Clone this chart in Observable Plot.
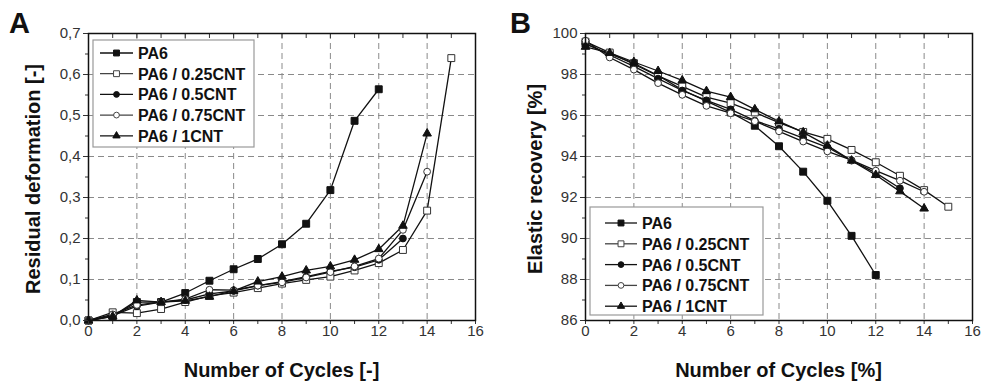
<!DOCTYPE html>
<html><head><meta charset="utf-8">
<script src="https://cdn.jsdelivr.net/npm/d3@7"></script>
<script src="https://cdn.jsdelivr.net/npm/@observablehq/plot@0.6"></script>
<style>
html,body{margin:0;padding:0;background:#fff;}
#wrap{position:relative;width:984px;height:387px;overflow:hidden;background:#fff;}
#wrap svg{position:absolute;top:0;}
</style></head><body><div id="wrap"></div>
<script>
// ---------- data ----------
const cycles = [0,1,2,3,4,5,6,7,8,9,10,11,12,13,14,15];
const seriesNames = ["PA6","PA6 / 0.25CNT","PA6 / 0.5CNT","PA6 / 0.75CNT","PA6 / 1CNT"];
const seriesSymbols = ["square","square","circle","circle","triangle"];
const seriesFilled = [true,false,true,false,true];

// Panel A: residual deformation [-]
const resPA6  = [0,0.01,0.045,0.045,0.067,0.097,0.125,0.15,0.186,0.236,0.318,0.487,0.564];
const res025  = [0,0.02,0.018,0.028,0.045,0.06,0.068,0.079,0.09,0.099,0.107,0.122,0.14,0.172,0.268,0.64];
const res05   = [0,0.012,0.035,0.045,0.05,0.065,0.072,0.085,0.095,0.107,0.12,0.13,0.148,0.2];
const res075  = [0,0.015,0.038,0.045,0.052,0.075,0.074,0.085,0.093,0.105,0.118,0.132,0.151,0.221,0.363];
const res1    = [0,0.01,0.049,0.045,0.048,0.058,0.072,0.095,0.107,0.122,0.132,0.148,0.174,0.231,0.456];

// Panel B: elastic recovery [%]
const recPA6  = [99.5,99.0,98.55,97.95,97.25,96.7,96.15,95.5,94.5,93.26,91.84,90.13,88.22];
const rec025  = [99.6,99.07,98.5,97.93,97.42,96.9,96.6,96.15,95.65,95.2,94.86,94.32,93.72,93.06,92.36,91.55];
const rec05   = [99.5,98.95,98.4,97.8,97.22,96.74,96.3,95.75,95.35,94.9,94.45,93.8,93.2,92.45];
const rec075  = [99.65,98.83,98.24,97.58,97.01,96.47,96.11,95.72,95.23,94.73,94.25,93.82,93.31,92.82,92.28];
const rec1    = [99.35,99.05,98.61,98.17,97.71,97.19,96.9,96.3,95.71,95.18,94.53,93.8,93.1,92.3,91.46];

// ticks
const xMajor = [0,2,4,6,8,10,12,14,16];
const xMinor = [1,3,5,7,9,11,13,15];
const xTop   = [0,1,2,3,4,5,6,7,8,9,10,11,12,13,14,15,16];
const xGrid  = [2,4,6,8,10,12,14];
const yMajorA = [0,0.1,0.2,0.3,0.4,0.5,0.6,0.7];
const yMinorA = [0.05,0.15,0.25,0.35,0.45,0.55,0.65];
const yGridA  = [0.1,0.2,0.3,0.4,0.5,0.6];
const yMajorB = [86,88,90,92,94,96,98,100];
const yMinorB = [87,89,91,93,95,97,99];
const yGridB  = [88,90,92,94,96,98];

// ---------- helpers ----------
const FONT = "'Liberation Sans', Arial, Helvetica, sans-serif";
const symR = {square: 3.9, circle: 3.4, triangle: 3.2};

function toRows(valuesList){
  return valuesList.map((vals, si) => vals.map((v, i) => ({x: cycles[i], y: v, s: seriesNames[si]})));
}

function panel(opts){
  const rowsBySeries = toRows(opts.values);
  const marks = [
    Plot.gridX(xGrid, {stroke: "#8a8a8a", strokeOpacity: 1, strokeDasharray: "6,4"}),
    Plot.gridY(opts.yGrid, {stroke: "#8a8a8a", strokeOpacity: 1, strokeDasharray: "6,4"})
  ];
  rowsBySeries.forEach((rows, si) => {
    marks.push(Plot.line(rows, {x: "x", y: "y", stroke: "#111", strokeWidth: 1.3}));
  });
  rowsBySeries.forEach((rows, si) => {
    marks.push(Plot.dot(rows, {
      x: "x", y: "y", symbol: () => seriesSymbols[si], r: symR[seriesSymbols[si]],
      fill: seriesFilled[si] ? "#111" : "white", stroke: seriesFilled[si] ? "#111" : "#333", strokeWidth: 1
    }));
  });
  marks.push(
    Plot.axisX(xMajor, {anchor: "bottom", tickSize: 4, tickPadding: 1, tickFormat: d => String(d), label: null}),
    Plot.axisX(xMinor, {anchor: "bottom", tickSize: 4, tickFormat: () => "", label: null}),
    Plot.axisX(xTop, {anchor: "top", tickSize: -4, tickFormat: () => "", label: null}),
    Plot.axisY(opts.yMajor, {anchor: "left", tickSize: 5, tickPadding: 3, tickFormat: opts.yFmt, label: null}),
    Plot.axisY(opts.yMinor, {anchor: "left", tickSize: 3, tickFormat: () => "", label: null}),
    Plot.frame({stroke: "#111", strokeWidth: 1.5})
  );
  const svg = Plot.plot({
    width: opts.width, height: 387,
    marginLeft: opts.mL, marginRight: opts.mR, marginTop: 33, marginBottom: 67,
    x: {domain: [0,16], label: null},
    y: {domain: opts.yDomain, label: null},
    symbol: {type: "identity"},
    style: {fontFamily: FONT, fontSize: "15px", color: "#333", background: "white", overflow: "visible"},
    marks
  });
  svg.style.left = opts.left + "px";
  document.getElementById("wrap").appendChild(svg);
  const s = d3.select(svg);
  // panel letter
  s.append("text").attr("x", opts.letterX).attr("y", 33).attr("text-anchor", "start").text(opts.letter)
    .attr("font-family", FONT).attr("font-weight", "bold").attr("font-size", 29).attr("fill", "#111");
  // axis titles
  const cx = opts.mL + (opts.width - opts.mL - opts.mR) / 2;
  s.append("text").attr("x", cx).attr("y", 377).attr("text-anchor", "middle").text(opts.xlabel)
    .attr("font-family", FONT).attr("font-weight", "bold").attr("font-size", 20).attr("fill", "#111");
  s.append("text").attr("transform", `translate(${opts.ylabelX},179) rotate(-90)`).attr("text-anchor", "middle")
    .attr("dy", "0.35em").text(opts.ylabel)
    .attr("font-family", FONT).attr("font-weight", "bold").attr("font-size", 20).attr("fill", "#111");
  // legend
  const L = opts.legend;
  const g = s.append("g").attr("text-anchor", "start");
  g.append("rect").attr("x", L.x).attr("y", L.y).attr("width", L.w).attr("height", L.h)
    .attr("fill", "white").attr("stroke", "#999").attr("stroke-width", 1.2);
  const symMap = {square: d3.symbolSquare, circle: d3.symbolCircle, triangle: d3.symbolTriangle};
  seriesNames.forEach((name, i) => {
    const yy = L.y + L.row0 + i * L.gap;
    g.append("line").attr("x1", L.lx0).attr("x2", L.lx1).attr("y1", yy).attr("y2", yy)
      .attr("stroke", seriesFilled[i] ? "#111" : "#444").attr("stroke-width", 1.3);
    const r = symR[seriesSymbols[i]] * 0.85;
    g.append("path").attr("d", d3.symbol(symMap[seriesSymbols[i]], Math.PI * r * r)())
      .attr("transform", `translate(${(L.lx0 + L.lx1) / 2},${yy})`)
      .attr("fill", seriesFilled[i] ? "#111" : "white").attr("stroke", seriesFilled[i] ? "#111" : "#444");
    g.append("text").attr("x", L.tx).attr("y", yy + 6).attr("text-anchor", "start").text(name)
      .attr("font-family", FONT).attr("font-weight", "bold").attr("font-size", 16).attr("fill", "#111");
  });
}

panel({
  left: 0, width: 490, mL: 88, mR: 15,
  yDomain: [0, 0.7], yMajor: yMajorA, yMinor: yMinorA, yGrid: yGridA,
  yFmt: d => d.toFixed(1).replace(".", ","),
  values: [resPA6, res025, res05, res075, res1],
  letter: "A", letterX: 9, xlabel: "Number of Cycles [-]", ylabel: "Residual deformation [-]", ylabelX: 33,
  legend: {x: 93, y: 40, w: 161, h: 107, row0: 13, gap: 20.7, lx0: 100, lx1: 133, tx: 138}
});
panel({
  left: 490, width: 494, mL: 95, mR: 12,
  yDomain: [86, 100], yMajor: yMajorB, yMinor: yMinorB, yGrid: yGridB,
  yFmt: d => String(d),
  values: [recPA6, rec025, rec05, rec075, rec1],
  letter: "B", letterX: 20, xlabel: "Number of Cycles [%]", ylabel: "Elastic recovery [%]", ylabelX: 45,
  legend: {x: 100, y: 207, w: 173, h: 108, row0: 16, gap: 20.8, lx0: 115, lx1: 147, tx: 152}
});
</script></body></html>
